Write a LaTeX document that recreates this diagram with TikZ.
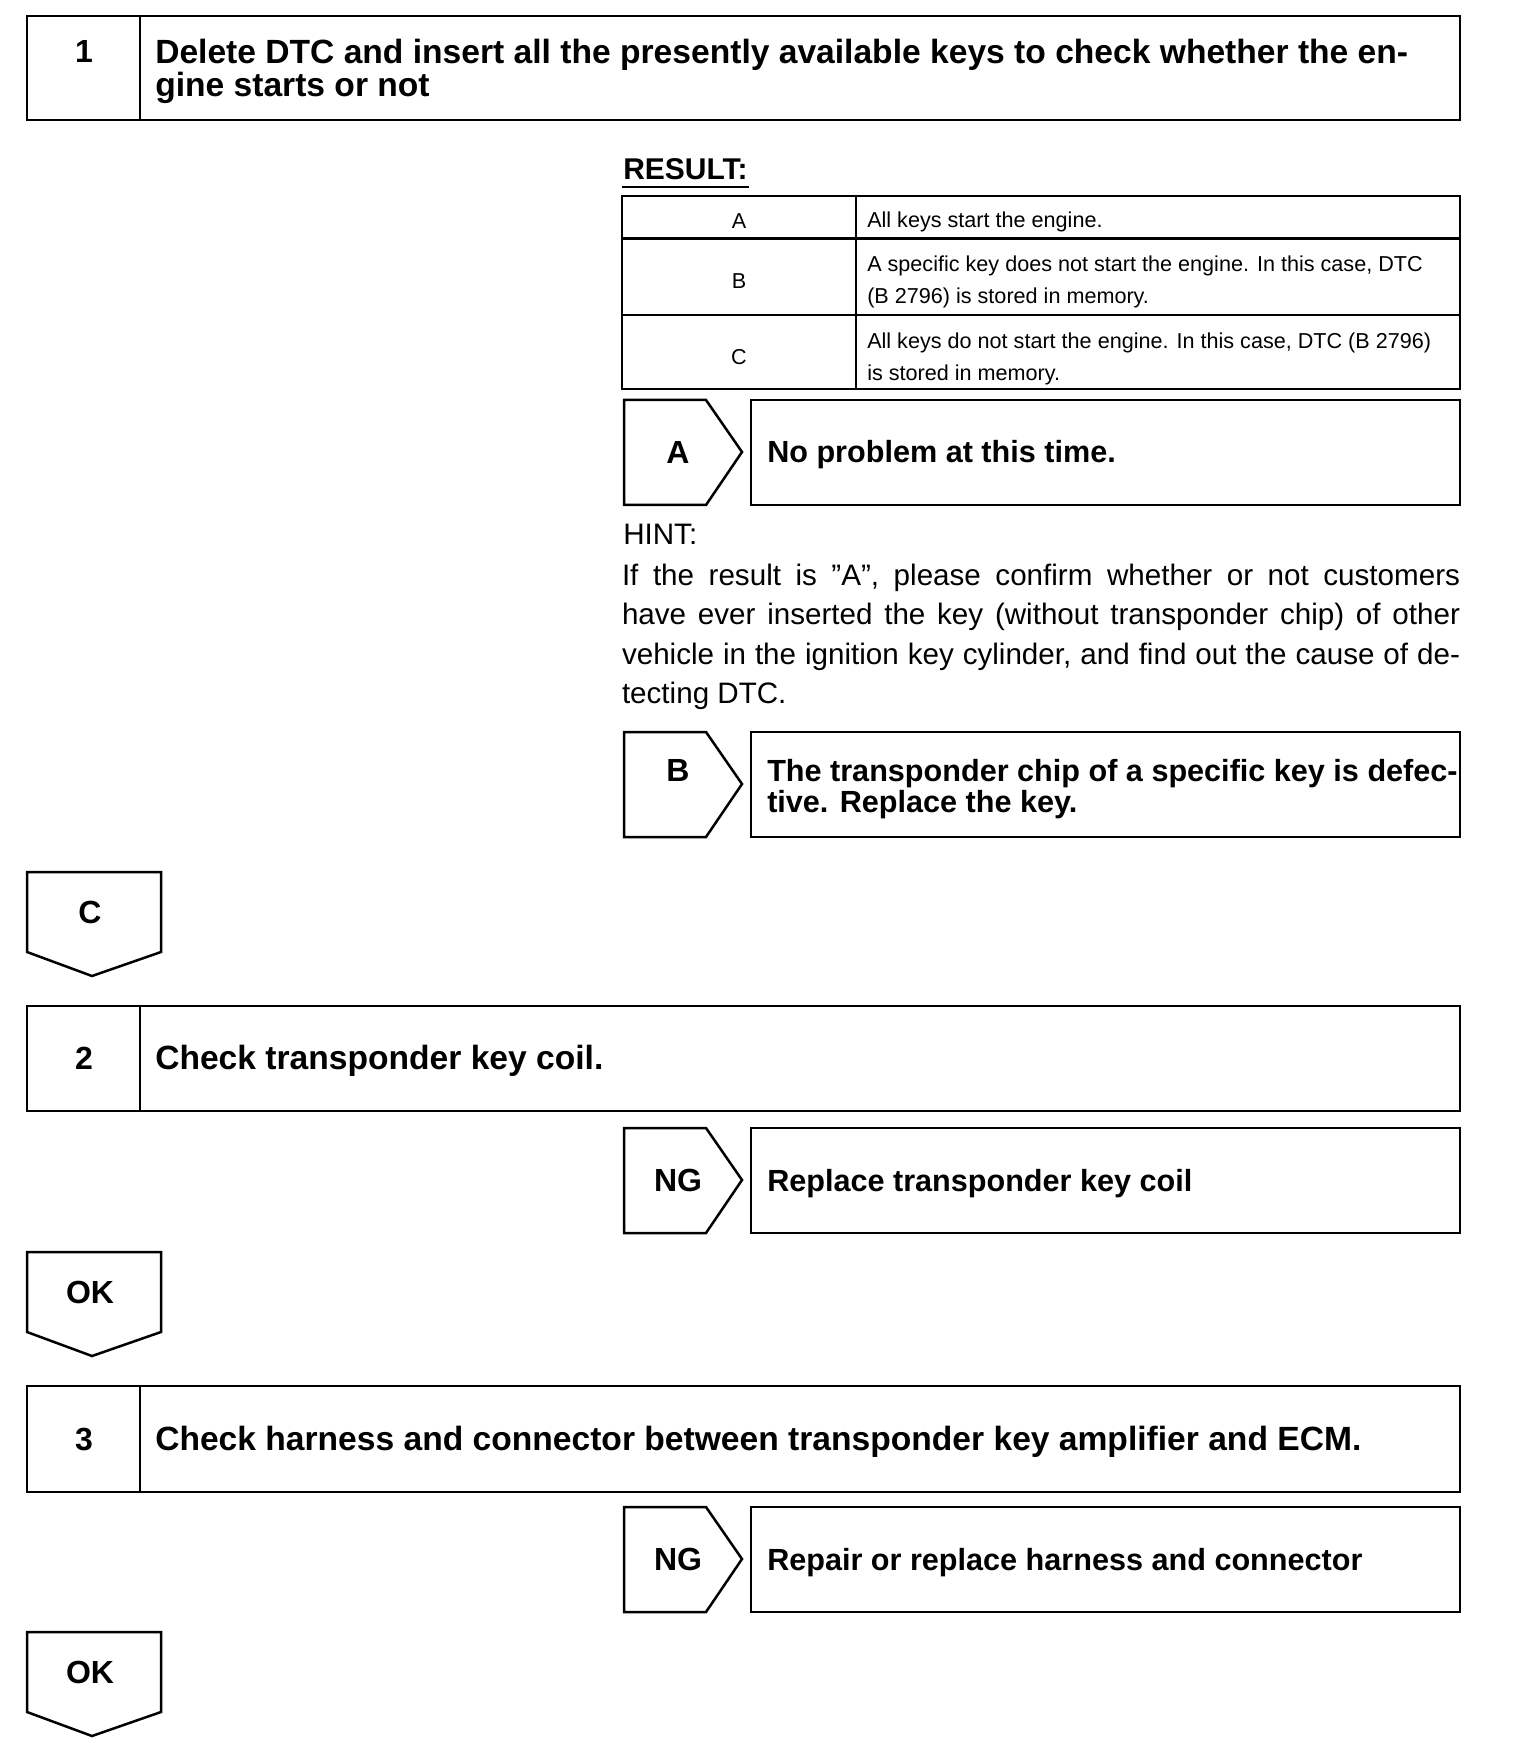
\documentclass[tikz,border=0pt]{standalone}
\usepackage{fontspec}
\setmainfont{Liberation Sans}
\usetikzlibrary{positioning}

\begin{document}
\begin{tikzpicture}[x=0.5pt, y=-0.5pt, line width=1.25pt,
  hdr/.style={font=\fontsize{16.8}{16.4}\selectfont\bfseries, anchor=west, align=left, inner sep=0pt},
  rhdr/.style={font=\fontsize{15.3}{15.2}\selectfont\bfseries, anchor=west, align=left, inner sep=0pt},
  num/.style={font=\fontsize{16}{16}\selectfont\bfseries, inner sep=0pt},
  cell/.style={font=\fontsize{10.8}{15.75}\selectfont, anchor=west, align=left, inner sep=0pt},
  hint/.style={font=\fontsize{14.8}{19.7}\selectfont, inner sep=0pt}]
  \useasboundingbox (0,0) rectangle (1520,1764);

  \draw (27,16) rectangle (1460,120);
  \draw (140,16) -- (140,120);
  \node[num] (n1) at (84,52) {1};
  \node[hdr] (t1) at (154,71) {Delete DTC and insert all the presently available keys to check whether the en-\\gine starts or not};

  \node[font=\fontsize{15}{15}\selectfont\bfseries, anchor=west, inner sep=0pt] (res) at (622,169) {RESULT:};
  \draw ([yshift=-3pt]res.south west) -- ([yshift=-3pt]res.south east);

  \draw (622,196) rectangle (1460,389);
  \draw (622,238.5) -- (1460,238.5);
  \draw (622,315) -- (1460,315);
  \draw (856,196) -- (856,389);
  \node[cell, anchor=center] (ka) at (739,221) {A};
  \node[cell, anchor=center] (kb) at (739,281) {B};
  \node[cell, anchor=center] (kc) at (739,357) {C};
  \node[cell] (ca) at (866,222) {All keys start the engine.};
  \node[cell] (cb) at (866,282) {A specific key does not start the engine. In this case, DTC\\(B 2796) is stored in memory.};
  \node[cell] (cc) at (866,359) {All keys do not start the engine. In this case, DTC (B 2796)\\is stored in memory.};

  \foreach \y/\ly/\t [count=\i] in {400/52/A, 732/38/B, 1128/52/NG, 1507/52/NG} {
    \draw (624,\y) -- (706,\y) -- (742,\y+52) -- (706,\y+105) -- (624,\y+105) -- cycle;
    \draw (751,\y) rectangle (1460,\y+105);
    \node[num] (tag\i) at (678,\y+\ly) {\t};
  }
  \node[rhdr] (ra) at (766,455) {No problem at this time.};
  \node[rhdr] (rb) at (766,789) {The transponder chip of a specific key is defec-\\tive. Replace the key.};
  \node[rhdr] (rc) at (766,1184) {Replace transponder key coil};
  \node[rhdr] (rd) at (766,1563) {Repair or replace harness and connector};

  \node[hint, anchor=west] (hn) at (622,534) {HINT:};
  \node[hint, anchor=center, text width=419pt, align=justify] (ht) at (1041,637) {If the result is ”A”, please confirm whether or not customers\linebreak have ever inserted the key (without transponder chip) of other\linebreak vehicle in the ignition key cylinder, and find out the cause of de-\linebreak tecting DTC.};

  \foreach \y/\t [count=\i] in {872/C, 1252/OK, 1632/OK} {
    \draw (27,\y) -- (161,\y) -- (161,\y+80) -- (92,\y+104) -- (27,\y+80) -- cycle;
    \node[num] (dn\i) at (90,\y+40) {\t};
  }

  \draw (27,1006) rectangle (1460,1111);
  \draw (140,1006) -- (140,1111);
  \node[num] (n2) at (84,1058) {2};
  \node[hdr] (t2) at (154,1061) {Check transponder key coil.};

  \draw (27,1386) rectangle (1460,1492);
  \draw (140,1386) -- (140,1492);
  \node[num] (n3) at (84,1439) {3};
  \node[hdr] (t3) at (154,1442) {Check harness and connector between transponder key amplifier and ECM.};
\end{tikzpicture}
\end{document}
